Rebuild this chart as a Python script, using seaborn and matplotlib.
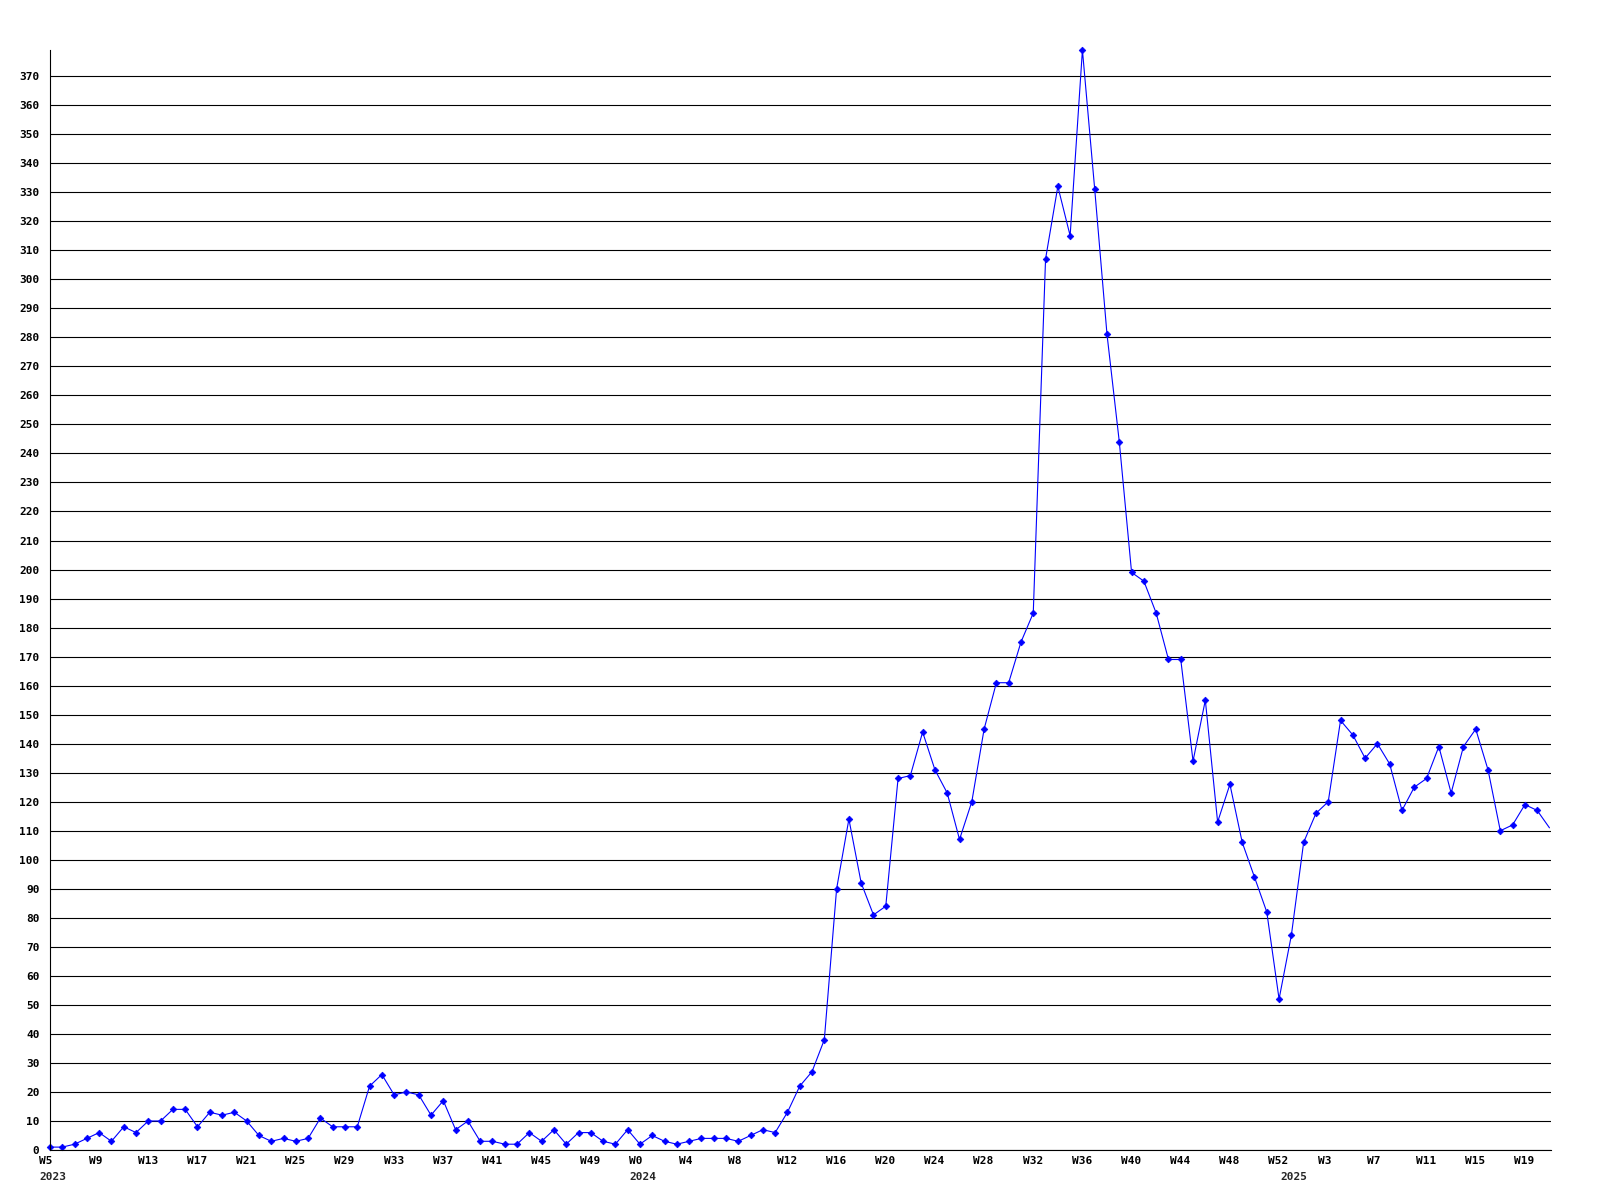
import numpy as np
import matplotlib
matplotlib.use('Agg')
import matplotlib.pyplot as plt
import matplotlib.transforms as mtransforms
import seaborn as sns

# semanas de cada año (eje x)
semanas_2023 = list(range(5, 53))
semanas_2024 = list(range(0, 53))
semanas_2025 = list(range(0, 22))

anios = ['2023', '2024', '2025']

# valores semanales
valores = [
    1, 1, 2, 4, 6, 3, 8, 6, 10, 10, 14, 14, 8, 13, 12, 13, 10, 5, 3, 4,
    3, 4, 11, 8, 8, 8, 22, 26, 19, 20, 19, 12, 17, 7, 10, 3, 3, 2, 2, 6,
    3, 7, 2, 6, 6, 3, 2, 7, 2, 5, 3, 2, 3, 4, 4, 4, 3, 5, 7, 6,
    13, 22, 27, 38, 90, 114, 92, 81, 84, 128, 129, 144, 131, 123, 107, 120, 145, 161, 161, 175,
    185, 307, 332, 315, 379, 331, 281, 244, 199, 196, 185, 169, 169, 134, 155, 113, 126, 106, 94, 82,
    52, 74, 106, 116, 120, 148, 143, 135, 140, 133, 117, 125, 128, 139, 123, 139, 145, 131, 110, 112,
    119, 117, 111,
]

etiquetas = ['W%d' % s for s in semanas_2023 + semanas_2024 + semanas_2025]
idx = np.arange(len(valores))
inicio_anio = [0, len(semanas_2023), len(semanas_2023) + len(semanas_2024)]

sns.set_style('white')
plt.rcParams['font.family'] = ['DejaVu Sans Mono', 'DejaVu Sans']
plt.rcParams['font.weight'] = 'bold'

fig = plt.figure(figsize=(16, 12), dpi=100)
ax = fig.add_axes([50 / 1600, 50 / 1200, 1500.7 / 1600, 1100 / 1200])

sns.lineplot(x=idx, y=valores, ax=ax, color='blue', linewidth=0.8,
             marker='D', markersize=3.4, markeredgewidth=0.5,
             markeredgecolor='blue', clip_on=False,
             markevery=list(range(len(valores) - 1)))

ax.set_xlim(0, 122.1)
ax.set_ylim(0, 379)

ax.set_yticks(range(0, 371, 10))
ax.grid(axis='y', color='black', linewidth=0.8)
ax.grid(axis='x', visible=False)
ax.set_axisbelow(True)

for lado in ['top', 'right']:
    ax.spines[lado].set_visible(False)
for lado in ['left', 'bottom']:
    ax.spines[lado].set_color('black')
    ax.spines[lado].set_linewidth(0.8)

ax.set_xticks(idx[::4])
ax.set_xticklabels(etiquetas[::4])
ax.tick_params(axis='both', length=0, labelsize=8, colors='black')
ax.tick_params(axis='y', pad=7.5)
ax.tick_params(axis='x', pad=4.5)

# etiquetas alineadas a la izquierda, algo desplazadas
desplaza = mtransforms.ScaledTranslation(-10.6 / 100, 0, fig.dpi_scale_trans)
for lab in ax.get_xticklabels():
    lab.set_horizontalalignment('left')
    lab.set_transform(lab.get_transform() + desplaza)

for anio, pos in zip(anios, inicio_anio):
    ax.annotate(anio, xy=(pos, 0), xycoords=('data', 'axes fraction'),
                xytext=(-10.6 * 0.72, -22 * 0.72), textcoords='offset points',
                ha='left', va='top', fontsize=8, fontweight='bold')

ax.set_xlabel('')
ax.set_ylabel('')

fig.savefig('out.png', dpi=100)
